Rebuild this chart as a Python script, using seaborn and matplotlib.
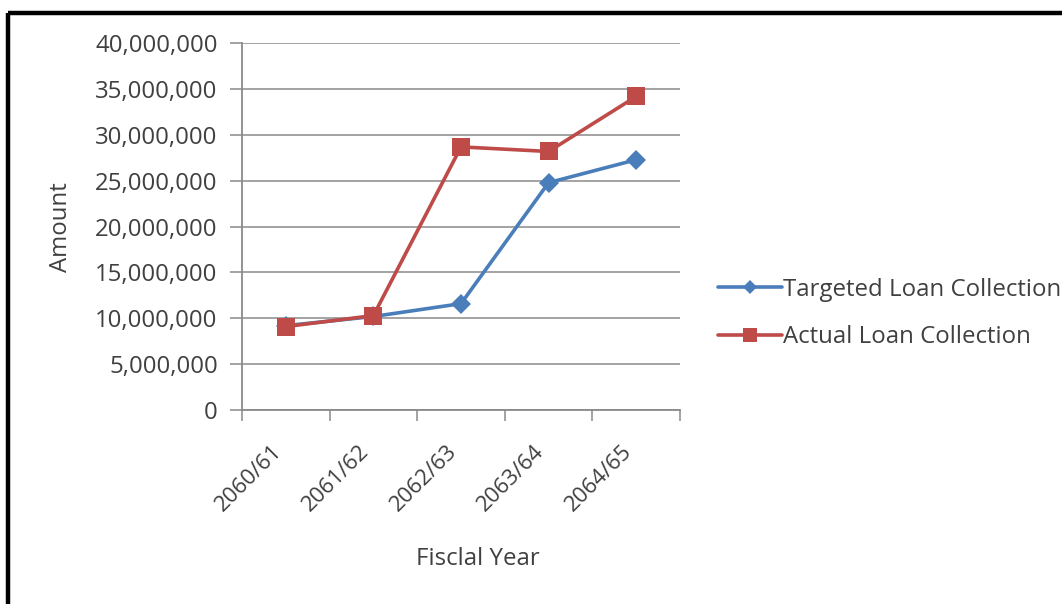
import matplotlib
matplotlib.use("Agg")
import matplotlib.pyplot as plt
from matplotlib.lines import Line2D
from matplotlib.ticker import FuncFormatter, FixedLocator
from matplotlib.transforms import ScaledTranslation
import seaborn as sns
import pandas as pd

# Loan collection by fiscal year
fiscal_years = ["2060/61", "2061/62", "2062/63", "2063/64", "2064/65"]
targeted = [9200000, 10200000, 11600000, 24800000, 27300000]
actual = [9100000, 10300000, 28700000, 28200000, 34200000]
series_names = ["Targeted Loan Collection", "Actual Loan Collection"]

sns.set_theme(style="white")
plt.rcParams["font.family"] = ["Open Sans", "DejaVu Sans"]
TEXT = "#404040"
GRID = "#8a8a8a"
FS = 17.3

df = pd.DataFrame({
    "Fiscal Year": fiscal_years * 2,
    "Amount": targeted + actual,
    "Series": [series_names[0]] * len(targeted) + [series_names[1]] * len(actual),
})
df["pos"] = df["Fiscal Year"].map({fy: i for i, fy in enumerate(fiscal_years)})

fig = plt.figure(figsize=(10.62, 6.04), dpi=100)
ax = fig.add_axes([0.2279, 0.3212, 0.4124, 0.6071])

sns.lineplot(
    data=df, x="pos", y="Amount", hue="Series", style="Series",
    palette={series_names[0]: "#4a7ebb", series_names[1]: "#be4b48"},
    markers={series_names[0]: "D", series_names[1]: "s"},
    dashes=False, linewidth=2.6, markersize=11, markeredgewidth=0,
    ax=ax, legend=False,
)
# squares a little larger than the diamonds
for line in ax.lines:
    if line.get_marker() == "s":
        line.set_markersize(12.5)
    else:
        line.set_markersize(10)

ax.set_xlim(-0.5, len(fiscal_years) - 0.5)
ax.set_ylim(0, 40000000)
ax.set_yticks(range(0, 40000001, 5000000))
ax.yaxis.set_major_formatter(FuncFormatter(lambda v, p: f"{int(v):,}"))
ax.set_xticks(range(len(fiscal_years)))
ax.set_xticklabels(fiscal_years, rotation=45, ha="right")
shift = ScaledTranslation(5 / 100, 0, fig.dpi_scale_trans)
for lbl in ax.get_xticklabels():
    lbl.set_transform(lbl.get_transform() + shift)
ax.xaxis.set_minor_locator(FixedLocator([i - 0.5 for i in range(len(fiscal_years) + 1)]))

ax.grid(axis="y", color=GRID, linewidth=1.1)
ax.set_axisbelow(True)
for side in ("top", "right"):
    ax.spines[side].set_visible(False)
for side in ("left", "bottom"):
    ax.spines[side].set_color(GRID)
    ax.spines[side].set_linewidth(1.3)

ax.tick_params(axis="y", which="major", left=True, length=8.5, width=1.1, color=GRID,
               pad=9, labelsize=FS, labelcolor=TEXT)
ax.tick_params(axis="x", which="major", bottom=False, length=0, pad=22,
               labelsize=16, labelcolor=TEXT)
ax.tick_params(axis="x", which="minor", bottom=True, length=8, width=1.1, color=GRID)

ax.set_xlabel("Fisclal Year", fontsize=FS, color=TEXT)
ax.set_ylabel("Amount", fontsize=FS, color=TEXT)
ax.xaxis.set_label_coords(0.538, -0.373)
ax.yaxis.set_label_coords(-0.385, 0.5)

handles = [
    Line2D([], [], color="#4a7ebb", marker="D", markersize=7, linewidth=2.6, markeredgewidth=0),
    Line2D([], [], color="#be4b48", marker="s", markersize=10, linewidth=2.6, markeredgewidth=0),
]
fig.legend(handles, series_names, loc="center left", bbox_to_anchor=(0.676, 0.481),
           frameon=False, fontsize=FS, labelcolor=TEXT, handlelength=2.65,
           handletextpad=0.05, labelspacing=0.98, borderpad=0, borderaxespad=0)

# black frame along the top and left edges
fig.add_artist(Line2D([0.0073, 1.0], [0.9785, 0.9785], transform=fig.transFigure,
                      color="black", linewidth=3.2, solid_capstyle="butt"))
fig.add_artist(Line2D([0.0073, 0.0073], [0.0, 0.9785], transform=fig.transFigure,
                      color="black", linewidth=3.2, solid_capstyle="butt"))

fig.savefig("out.png", dpi=100, facecolor="white")
